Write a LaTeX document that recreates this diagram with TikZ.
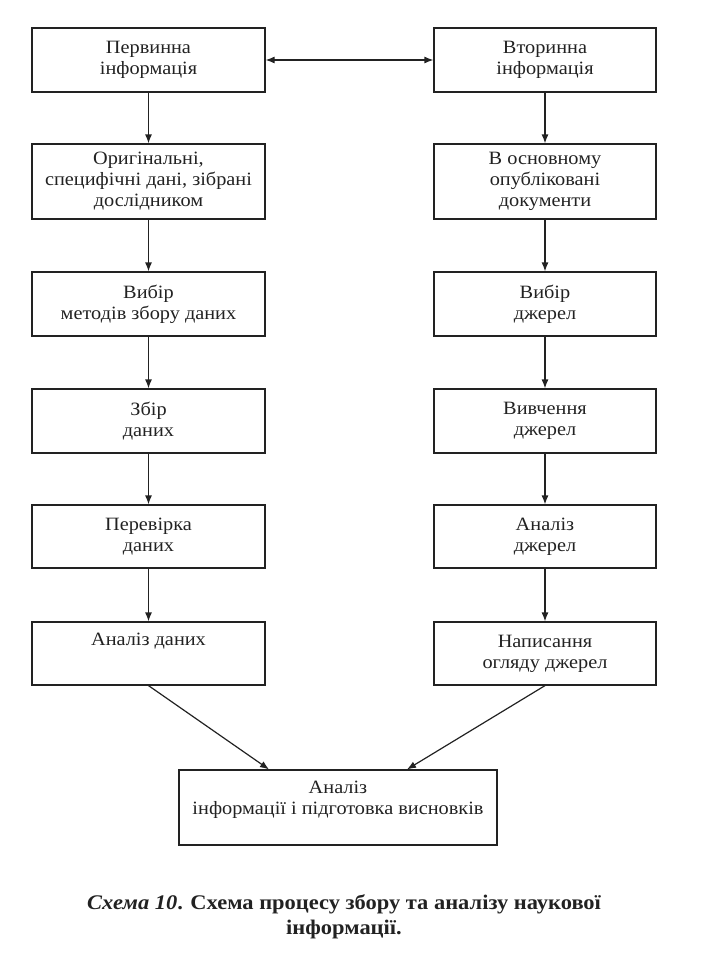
\documentclass[tikz,border=0pt]{standalone}
\usepackage{fontspec}
\setmainfont[FakeStretch=1.08]{Liberation Serif}
\usetikzlibrary{arrows.meta}
\definecolor{ink}{HTML}{222222}
\begin{document}
\begin{tikzpicture}[x=1pt,y=-1pt,
  box/.style={draw=ink, line width=1.2pt, align=center, inner sep=0pt,
    text=ink, font=\fontsize{18.8}{21}\selectfont, minimum height=64pt},
  lbox/.style={box, minimum width=233pt},
  rbox/.style={box, minimum width=222pt},
  arr/.style={draw=ink, line width=1.2pt, -{Latex[length=9pt,width=7pt]}},
  darr/.style={draw=ink, line width=1.2pt, {Latex[length=9pt,width=7pt]}-{Latex[length=9pt,width=7pt]}},
  txt/.style={align=center, inner sep=0pt, text=ink, font=\fontsize{18.8}{21}\selectfont},
]
\useasboundingbox (0,0) rectangle (707,980);

% left column
\node[lbox] (L1) at (148.5,60) {Первинна\\інформація};
\node[lbox, minimum height=75pt] (L2) at (148.5,181.5) {Оригінальні,\\специфічні дані, зібрані\\дослідником};
\node[lbox] (L3) at (148.5,304) {Вибір\\методів збору даних};
\node[lbox] (L4) at (148.5,421) {Збір\\даних};
\node[lbox, minimum height=63pt] (L5) at (148.5,536.5) {Перевірка\\даних};
\node[lbox, minimum height=63pt] (L6) at (148.5,653.5) {};
\node[txt] (L6t) at (148.5,641) {Аналіз даних};

% right column
\node[rbox] (R1) at (545,60) {Вторинна\\інформація};
\node[rbox, minimum height=75pt] (R2) at (545,181.5) {В основному\\опубліковані\\документи};
\node[rbox] (R3) at (545,304) {Вибір\\джерел};
\node[rbox] (R4) at (545,421) {Вивчення\\джерел};
\node[rbox, minimum height=63pt] (R5) at (545,536.5) {Аналіз\\джерел};
\node[rbox, minimum height=63pt] (R6) at (545,653.5) {Написання\\огляду джерел};

% final
\node[box, minimum width=318pt, minimum height=75pt] (F) at (338,807.5) {};
\node[txt] (Ft) at (338,800) {Аналіз\\інформації і підготовка висновків};

% connectors
\draw[darr] (L1) -- (R1);
\draw[arr] (L1) -- (L2);
\draw[arr] (L2) -- (L3);
\draw[arr] (L3) -- (L4);
\draw[arr] (L4) -- (L5);
\draw[arr] (L5) -- (L6);
\draw[arr] (R1) -- (R2);
\draw[arr] (R2) -- (R3);
\draw[arr] (R3) -- (R4);
\draw[arr] (R4) -- (R5);
\draw[arr] (R5) -- (R6);
\draw[arr] (L6.south) -- ([xshift=-69pt]F.north);
\draw[arr] (R6.south) -- ([xshift=69pt]F.north);

% caption
\node[align=center, inner sep=0pt, text=ink, font=\fontsize{20.8}{25}\selectfont\bfseries] (cap) at (344,917)
  {\textit{Схема 10}. Схема процесу збору та аналізу наукової\\інформації.};
\end{tikzpicture}
\end{document}
